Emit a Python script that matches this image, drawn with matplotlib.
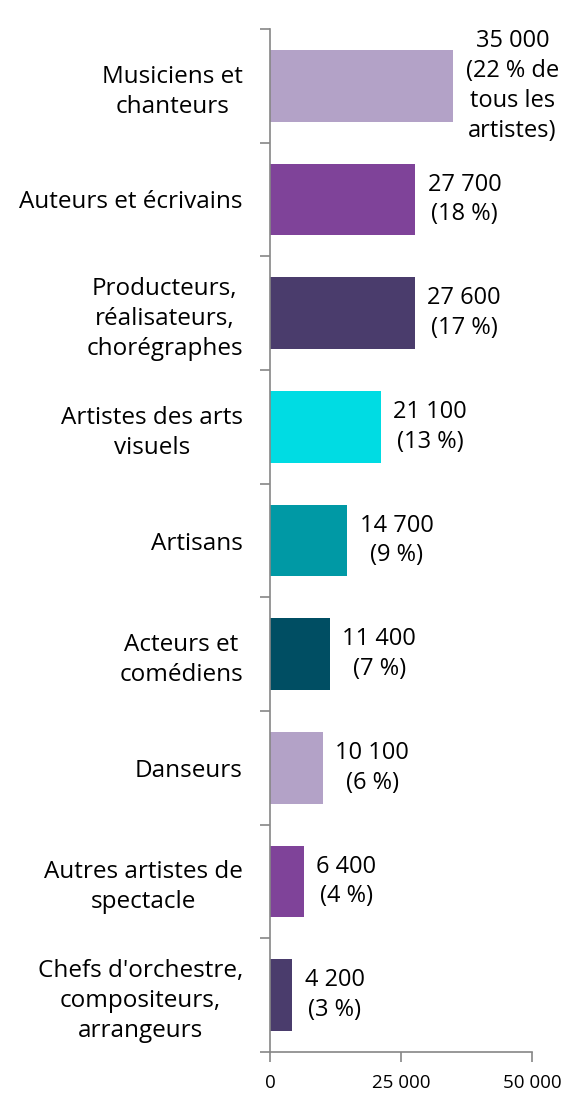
import matplotlib
matplotlib.use("Agg")
import matplotlib.pyplot as plt
import numpy as np

plt.rcParams['font.family'] = ['Open Sans', 'DejaVu Sans']

# categories, top to bottom
categories = ["Musiciens et\nchanteurs", "Auteurs et écrivains",
              "Producteurs,\nréalisateurs,\nchorégraphes",
              "Artistes des arts\nvisuels", "Artisans", "Acteurs et\ncomédiens",
              "Danseurs", "Autres artistes de\nspectacle",
              "Chefs d'orchestre,\ncompositeurs,\narrangeurs"]
counts = [35000, 27700, 27600, 21100, 14700, 11400, 10100, 6400, 4200]
value_labels = ["35 000\n(22 % de\ntous les\nartistes)", "27 700\n(18 %)",
                "27 600\n(17 %)", "21 100\n(13 %)", "14 700\n(9 %)",
                "11 400\n(7 %)", "10 100\n(6 %)", "6 400\n(4 %)", "4 200\n(3 %)"]
colors = ["#B3A2C7", "#7F4399", "#4A3C6C", "#00DCE3", "#0099A5",
          "#004E63", "#B3A2C7", "#7F4399", "#4A3C6C"]
x_ticks = [0, 25000, 50000]
x_tick_labels = ["0", "25 000", "50 000"]

fig = plt.figure(figsize=(5.82, 10.93), dpi=100)
ax = fig.add_axes([270/582, 1 - 1052/1093, 262/582, (1052 - 29)/1093])

y = np.arange(len(categories))
ax.barh(y, counts, height=0.63, color=colors)
ax.set_ylim(len(categories) - 0.5, -0.5)
ax.set_xlim(0, 50000)

for yi, v, lab in zip(y, counts, value_labels):
    ax.annotate(lab, (v, yi), xytext=(9, 0), textcoords='offset points',
                ha='left', va='center', multialignment='center',
                fontsize=17, color='black', linespacing=1.33)

gray = "#868686"
for s in ['top', 'right']:
    ax.spines[s].set_visible(False)
for s in ['left', 'bottom']:
    ax.spines[s].set_color(gray)
    ax.spines[s].set_linewidth(1.2)

ax.set_yticks(y)
ax.set_yticklabels(categories, multialignment='center', linespacing=1.33)
ax.set_yticks(np.arange(len(categories) + 1) - 0.5, minor=True)
ax.tick_params(axis='y', which='major', length=0, pad=19.5, labelsize=17.5)
ax.tick_params(axis='y', which='minor', length=7, color=gray, width=1.2)

ax.set_xticks(x_ticks)
ax.set_xticklabels(x_tick_labels)
ax.tick_params(axis='x', length=7, color=gray, width=1.2, labelsize=13.5, pad=9)

fig.savefig("out.png", dpi=100)
